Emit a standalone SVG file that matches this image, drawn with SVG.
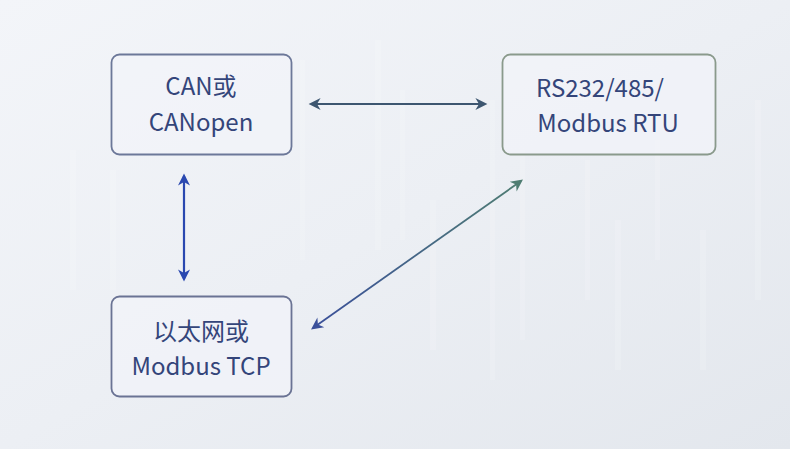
<svg xmlns="http://www.w3.org/2000/svg" width="790" height="449" viewBox="0 0 790 449">
<defs>
<linearGradient id="bg" x1="0" y1="0" x2="1" y2="1">
<stop offset="0" stop-color="#f3f5f9"/>
<stop offset="0.5" stop-color="#eceff4"/>
<stop offset="1" stop-color="#e3e7ed"/>
</linearGradient>
<linearGradient id="diag" gradientUnits="userSpaceOnUse" x1="313" y1="328" x2="521" y2="181">
<stop offset="0" stop-color="#3a4f9a"/>
<stop offset="1" stop-color="#4f7d72"/>
</linearGradient>
<marker id="mV" viewBox="0 0 10 10" refX="8" refY="5" markerWidth="14" markerHeight="12" orient="auto-start-reverse" markerUnits="userSpaceOnUse">
<path d="M0,0 L10,5 L0,10 L3,5 z" fill="#2a48b0"/>
</marker>
<marker id="mD1" viewBox="0 0 10 10" refX="8" refY="5" markerWidth="14" markerHeight="12" orient="auto-start-reverse" markerUnits="userSpaceOnUse">
<path d="M0,0 L10,5 L0,10 L3,5 z" fill="#3a4f9a"/>
</marker>
<marker id="mD2" viewBox="0 0 10 10" refX="8" refY="5" markerWidth="14" markerHeight="12" orient="auto" markerUnits="userSpaceOnUse">
<path d="M0,0 L10,5 L0,10 L3,5 z" fill="#4f7d72"/>
</marker>
<marker id="mH2" viewBox="0 0 10 10" refX="8" refY="5" markerWidth="14" markerHeight="12" orient="auto-start-reverse" markerUnits="userSpaceOnUse">
<path d="M0,0 L10,5 L0,10 L3,5 z" fill="#3d5670"/>
</marker>
</defs>
<style>
.box{fill:#f2f4f9;fill-opacity:0.7;stroke-width:1.8}
.t{font-family:"Noto Sans CJK SC","Noto Sans",sans-serif;font-size:24px;fill:#34457a;text-anchor:middle}
.stripe{fill:#ffffff;opacity:0.15}
</style>
<rect width="790" height="449" fill="url(#bg)"/>
<g id="texture">
<rect class="stripe" x="70" y="150" width="6" height="140"/>
<rect class="stripe" x="110" y="170" width="6" height="120"/>
<rect class="stripe" x="300" y="60" width="5" height="200"/>
<rect class="stripe" x="375" y="40" width="6" height="210"/>
<rect class="stripe" x="400" y="90" width="5" height="150"/>
<rect class="stripe" x="430" y="200" width="6" height="150"/>
<rect class="stripe" x="490" y="100" width="5" height="280"/>
<rect class="stripe" x="520" y="150" width="5" height="190"/>
<rect class="stripe" x="585" y="160" width="5" height="140"/>
<rect class="stripe" x="615" y="220" width="6" height="150"/>
<rect class="stripe" x="655" y="140" width="5" height="120"/>
<rect class="stripe" x="700" y="230" width="6" height="140"/>
<rect class="stripe" x="755" y="100" width="6" height="200"/>
</g>
<g id="connectors" fill="none" stroke-width="2.2">
<line x1="311" y1="104" x2="485" y2="104" stroke="#3d5670" marker-start="url(#mH2)" marker-end="url(#mH2)"/>
<line x1="184" y1="176" x2="184" y2="279" stroke="#2a48b0" marker-start="url(#mV)" marker-end="url(#mV)"/>
<line x1="313" y1="328" x2="521" y2="181" stroke="url(#diag)" stroke-width="1.8" marker-start="url(#mD1)" marker-end="url(#mD2)"/>
</g>
<g id="node-can">
<rect class="box" x="111.5" y="54.5" width="180" height="100" rx="8" stroke="#6c7899"/>
<text class="t" x="201" y="95">CAN或</text>
<text class="t" x="201" y="131">CANopen</text>
</g>
<g id="node-rs">
<rect class="box" x="502.5" y="54.5" width="213" height="100" rx="8" stroke="#8a9a8c"/>
<text class="t" x="600" y="97">RS232/485/</text>
<text class="t" x="608" y="132">Modbus RTU</text>
</g>
<g id="node-eth">
<rect class="box" x="111.5" y="296.5" width="180" height="100" rx="8" stroke="#6a7394"/>
<text class="t" x="201" y="340">以太网或</text>
<text class="t" x="201" y="375">Modbus TCP</text>
</g>
</svg>
